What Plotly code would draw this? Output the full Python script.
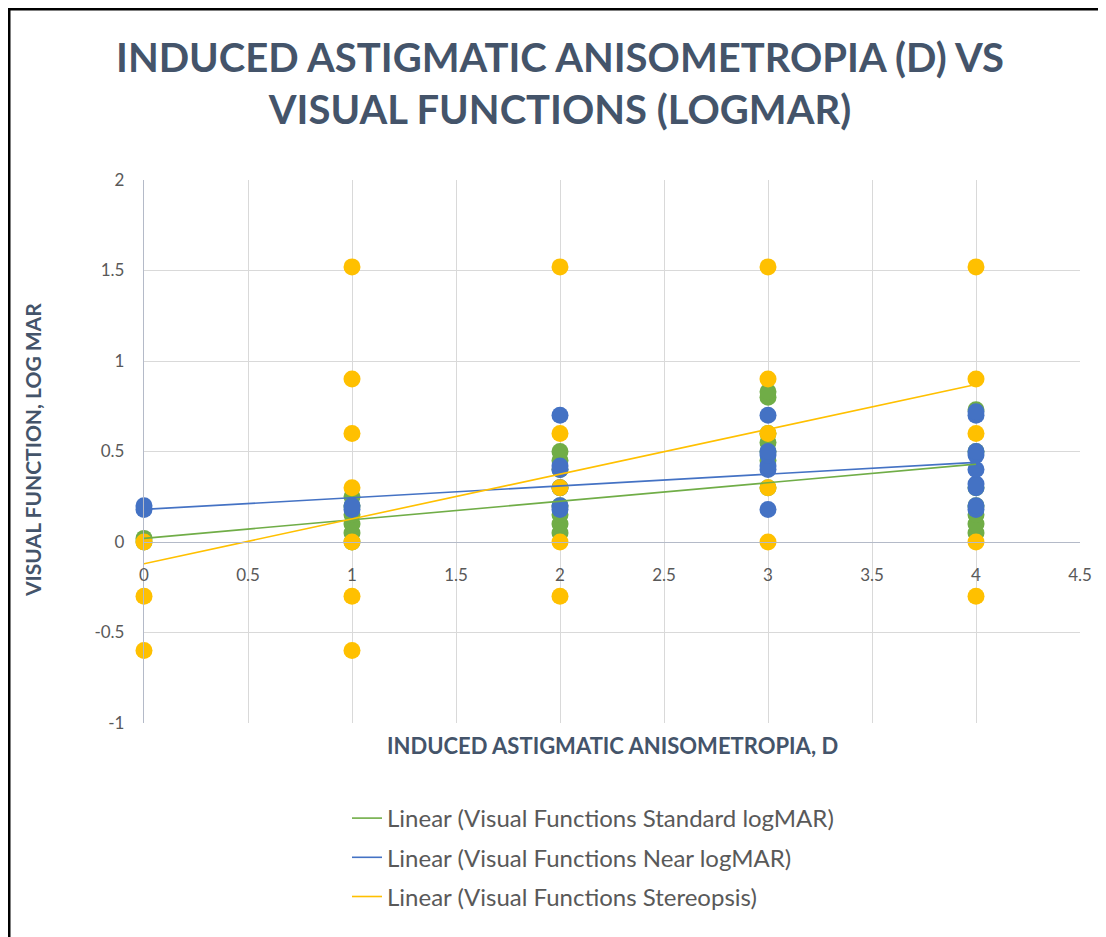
import plotly.graph_objects as go

# ---------------- data ----------------
std_x = [0, 0, 1, 1, 1, 1, 1, 1, 2, 2, 2, 2, 2, 2, 2, 2, 3, 3, 3, 3, 3, 3, 3, 4, 4, 4, 4, 4, 4, 4]
std_y = [0, 0.02, 0, 0.05, 0.1, 0.15, 0.2, 0.25, 0.05, 0.1, 0.15, 0.2, 0.3, 0.4, 0.45, 0.5,
         0.3, 0.45, 0.5, 0.55, 0.6, 0.8, 0.83, 0.05, 0.1, 0.15, 0.2, 0.3, 0.5, 0.73]

near_x = [0, 0, 1, 1, 2, 2, 2, 2, 2, 2, 3, 3, 3, 3, 3, 3, 4, 4, 4, 4, 4, 4, 4, 4, 4]
near_y = [0.18, 0.2, 0.18, 0.2, 0.18, 0.2, 0.3, 0.4, 0.42, 0.7, 0.18, 0.4, 0.42, 0.48, 0.5, 0.7,
          0.18, 0.2, 0.3, 0.32, 0.4, 0.48, 0.5, 0.7, 0.72]

stereo_x = [0, 0, 0, 1, 1, 1, 1, 1, 1, 1, 2, 2, 2, 2, 2, 3, 3, 3, 3, 3, 4, 4, 4, 4, 4]
stereo_y = [0, -0.3, -0.6, 1.52, 0.9, 0.6, 0.3, 0, -0.3, -0.6, 1.52, 0.6, 0.3, 0, -0.3,
            1.52, 0.9, 0.6, 0.3, 0, 1.52, 0.9, 0.6, 0, -0.3]

trend_x = [0, 4]
std_trend = [0.02, 0.43]
near_trend = [0.18, 0.44]
stereo_trend = [-0.12, 0.87]

series_names = ["Linear (Visual Functions Standard logMAR)",
                "Linear (Visual Functions Near logMAR)",
                "Linear (Visual Functions Stereopsis)"]

y_tick_vals = [-1, -0.5, 0, 0.5, 1, 1.5, 2]
y_tick_text = ["-1", "-0.5", "0", "0.5", "1", "1.5", "2"]
x_tick_vals = [0, 0.5, 1, 1.5, 2, 2.5, 3, 3.5, 4, 4.5]
x_tick_text = ["0", "0.5", "1", "1.5", "2", "2.5", "3", "3.5", "4", "4.5"]

GREEN = "#70AD47"
BLUE = "#4472C4"
YELLOW = "#FFC000"

fig = go.Figure()

for xs, ys, c in [(std_x, std_y, GREEN), (near_x, near_y, BLUE), (stereo_x, stereo_y, YELLOW)]:
    fig.add_trace(go.Scatter(x=xs, y=ys, mode="markers", showlegend=False,
                             marker=dict(color=c, size=17, line=dict(width=0)),
                             cliponaxis=False, hoverinfo="x+y"))

for ys, c, nm in [(std_trend, GREEN, series_names[0]), (near_trend, BLUE, series_names[1]),
                  (stereo_trend, YELLOW, series_names[2])]:
    fig.add_trace(go.Scatter(x=trend_x, y=ys, mode="lines", name=nm, legendgroup=nm,
                             line=dict(color=c, width=1.6), cliponaxis=False))

# page body has an 8px margin; layout coordinates below are given in screen pixels
OFF = 8
W, H = 1098, 929
L, T = 144 - OFF, 180 - OFF           # plot area left/top in figure px
PR, PB = 1080 - OFF, 723 - OFF        # plot area right/bottom in figure px
R, B = W - PR, H - PB
pw, ph = PR - L, PB - T

def px(xs):
    return (xs - OFF - L) / pw

def py(ys):
    return (PB - (ys - OFF)) / ph

fig.update_layout(
    width=W, height=H,
    margin=dict(l=L, r=R, t=T, b=B, autoexpand=False),
    paper_bgcolor="white", plot_bgcolor="white",
    font=dict(family="Lato, Carlito, sans-serif", color="#595959"),
    title=dict(text="INDUCED ASTIGMATIC ANISOMETROPIA (D) VS<br>VISUAL FUNCTIONS (LOGMAR)",
               x=(560 - OFF) / W, xanchor="center", y=1 - 64 / H, yanchor="top",
               font=dict(family="Lato, sans-serif", size=40, color="#44546A", weight="bold")),
    xaxis=dict(range=[0, 4.5], tickvals=x_tick_vals, ticktext=x_tick_text, automargin=False,
               showgrid=True, gridcolor="#D9D9D9",
               gridwidth=1, zeroline=False, showline=True, linecolor="#B4BAC8", linewidth=1.3,
               anchor="free", position=1 / 3, ticks="", ticklabelstandoff=17,
               tickfont=dict(size=17, color="#595959")),
    yaxis=dict(range=[-1, 2], tickvals=y_tick_vals, ticktext=y_tick_text, automargin=False,
               showgrid=True, gridcolor="#D9D9D9",
               gridwidth=1, zeroline=False, showline=True, linecolor="#B4BAC8", linewidth=1.3,
               ticks="", ticklabelstandoff=15, tickfont=dict(size=17, color="#595959")),
    legend=dict(x=px(347), y=py(796), xanchor="left", yanchor="top",
                font=dict(size=24, color="#595959"), tracegroupgap=5,
                traceorder="grouped", bgcolor="rgba(0,0,0,0)"),
    annotations=[
        dict(text="<b>INDUCED ASTIGMATIC ANISOMETROPIA, D</b>", xref="paper", yref="paper",
             x=px(612), y=py(745), xanchor="center", yanchor="middle", showarrow=False,
             font=dict(size=22, color="#44546A")),
        dict(text="<b>VISUAL FUNCTION, LOG MAR</b>", xref="paper", yref="paper",
             x=px(32), y=py(450), xanchor="center", yanchor="middle", showarrow=False,
             textangle=-90, font=dict(size=21, color="#44546A")),
    ],
    shapes=[
        dict(type="line", xref="paper", yref="paper", x0=px(OFF + 1), x1=px(OFF + 1),
             y0=py(OFF), y1=py(OFF + H), line=dict(color="black", width=3)),
        dict(type="line", xref="paper", yref="paper", x0=px(OFF), x1=px(OFF + W),
             y0=py(OFF + 1), y1=py(OFF + 1), line=dict(color="black", width=3)),
    ],
)

fig.write_html("out.html")
